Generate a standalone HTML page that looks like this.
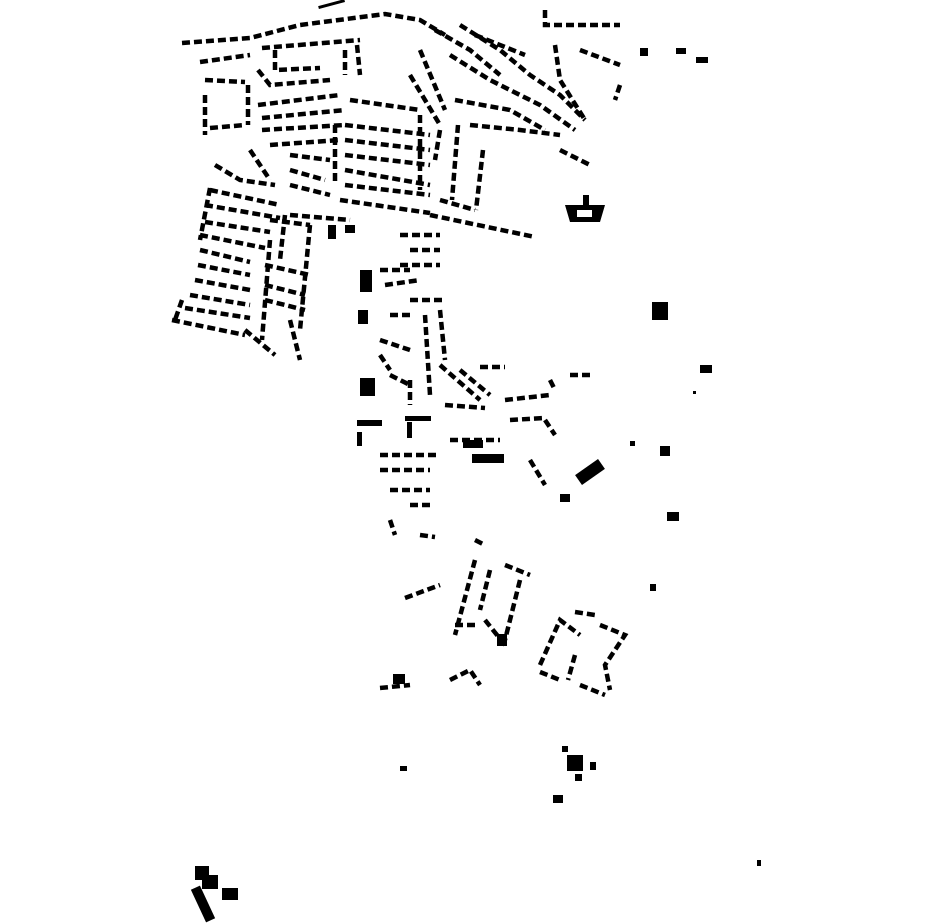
<!DOCTYPE html>
<html><head><style>html,body{margin:0;padding:0;background:#fff}svg{display:block}</style></head>
<body>
<svg width="930" height="924" viewBox="0 0 930 924" xmlns="http://www.w3.org/2000/svg">
<g fill="none" stroke="#000" stroke-width="4.5" stroke-dasharray="8 4">
<path d="M182,43 L250,38 L300,25 L385,14 L420,20 L445,35"/>
<path d="M200,62 L250,55"/>
<path d="M262,48 L360,40"/>
<path d="M205,80 L245,82"/>
<path d="M205,95 L205,135"/>
<path d="M210,128 L245,125"/>
<path d="M248,85 L248,125"/>
<path d="M258,105 L340,95"/>
<path d="M262,118 L345,110"/>
<path d="M262,130 L345,125"/>
<path d="M270,145 L340,140"/>
<path d="M258,70 L270,85 L330,80"/>
<path d="M275,50 L275,70 L320,68"/>
<path d="M345,50 L345,75"/>
<path d="M357,45 L360,75"/>
<path d="M215,165 L240,180 L275,185"/>
<path d="M250,150 L270,180"/>
<path d="M290,155 L330,160"/>
<path d="M290,170 L325,180"/>
<path d="M290,185 L330,195"/>
<path d="M335,125 L335,185"/>
<path d="M350,100 L420,110"/>
<path d="M345,125 L430,135"/>
<path d="M345,140 L430,150"/>
<path d="M345,155 L430,165"/>
<path d="M345,170 L430,185"/>
<path d="M345,185 L430,195"/>
<path d="M340,200 L430,213"/>
<path d="M420,115 L420,190"/>
<path d="M420,50 L445,110"/>
<path d="M410,75 L440,125"/>
<path d="M435,30 L470,50 L500,75"/>
<path d="M460,25 L500,50 L530,75 L560,95 L585,120"/>
<path d="M475,35 L525,55"/>
<path d="M450,55 L490,80 L540,105 L575,130"/>
<path d="M455,100 L510,110 L545,130"/>
<path d="M470,125 L520,130 L560,135"/>
<path d="M555,45 L560,80 L585,120"/>
<path d="M545,10 L545,25 L620,25"/>
<path d="M580,50 L620,65"/>
<path d="M620,85 L615,100"/>
<path d="M560,150 L590,165"/>
<path d="M440,130 L435,160"/>
<path d="M458,125 L452,200"/>
<path d="M483,150 L476,210"/>
<path d="M440,200 L475,210"/>
<path d="M430,215 L535,237"/>
<path d="M210,190 L280,205"/>
<path d="M205,205 L280,218"/>
<path d="M205,222 L270,232"/>
<path d="M200,235 L265,248"/>
<path d="M200,250 L250,262"/>
<path d="M198,265 L250,275"/>
<path d="M195,280 L250,290"/>
<path d="M190,295 L250,305"/>
<path d="M182,300 L175,320"/>
<path d="M185,308 L250,318"/>
<path d="M172,320 L245,335"/>
<path d="M210,188 L200,240"/>
<path d="M270,220 L310,225"/>
<path d="M265,265 L310,275"/>
<path d="M265,285 L305,295"/>
<path d="M265,300 L305,310"/>
<path d="M270,240 L262,340"/>
<path d="M285,215 L280,260"/>
<path d="M310,225 L300,330"/>
<path d="M290,320 L300,360"/>
<path d="M245,330 L275,355"/>
<path d="M290,215 L350,220"/>
<path d="M400,235 L440,235"/>
<path d="M410,250 L440,250"/>
<path d="M400,265 L440,265"/>
<path d="M380,270 L410,270"/>
<path d="M385,285 L420,280"/>
<path d="M410,300 L445,300"/>
<path d="M390,315 L410,315"/>
<path d="M425,315 L430,395"/>
<path d="M440,310 L445,360"/>
<path d="M380,340 L410,350"/>
<path d="M380,355 L390,370"/>
<path d="M390,375 L410,385"/>
<path d="M410,380 L410,405"/>
<path d="M440,365 L480,400"/>
<path d="M460,370 L490,395"/>
<path d="M480,367 L505,367"/>
<path d="M445,405 L485,408"/>
<path d="M505,400 L550,395"/>
<path d="M550,380 L555,390"/>
<path d="M570,375 L590,375"/>
<path d="M510,420 L545,418"/>
<path d="M545,420 L555,435"/>
<path d="M450,440 L500,440"/>
<path d="M380,455 L440,455"/>
<path d="M380,470 L430,470"/>
<path d="M390,490 L430,490"/>
<path d="M410,505 L430,505"/>
<path d="M390,520 L395,535"/>
<path d="M420,535 L435,537"/>
<path d="M530,460 L545,485"/>
<path d="M475,540 L485,545"/>
<path d="M475,560 L455,635"/>
<path d="M490,570 L480,610"/>
<path d="M505,565 L530,575"/>
<path d="M520,580 L505,640"/>
<path d="M485,620 L505,645"/>
<path d="M405,598 L440,585"/>
<path d="M455,625 L475,625"/>
<path d="M540,665 L560,620 L580,635"/>
<path d="M575,612 L595,615"/>
<path d="M540,672 L560,680"/>
<path d="M600,625 L625,635 L605,665 L610,690"/>
<path d="M575,655 L568,680"/>
<path d="M580,685 L605,695"/>
<path d="M450,680 L470,670 L480,685"/>
<path d="M380,688 L410,685"/>
</g>
<g fill="#000">
<rect x="318" y="3" width="27" height="3" transform="rotate(-15 330 4)"/>
<path d="M565,205 L605,205 L600,222 L570,222 Z M577,210 L577,217 L592,217 L592,210 Z" fill-rule="evenodd"/>
<rect x="583" y="195" width="6" height="10"/>
<rect x="652" y="302" width="16" height="18"/>
<rect x="700" y="365" width="12" height="8"/>
<rect x="660" y="446" width="10" height="10"/>
<rect x="667" y="512" width="12" height="9"/>
<rect x="650" y="584" width="6" height="7"/>
<rect x="630" y="441" width="5" height="5"/>
<rect x="693" y="391" width="3" height="3"/>
<rect x="640" y="48" width="8" height="8"/>
<rect x="676" y="48" width="10" height="6"/>
<rect x="696" y="57" width="12" height="6"/>
<rect x="360" y="270" width="12" height="22"/>
<rect x="358" y="310" width="10" height="14"/>
<rect x="357" y="420" width="25" height="6"/>
<rect x="357" y="432" width="5" height="14"/>
<rect x="405" y="416" width="26" height="5"/>
<rect x="407" y="422" width="5" height="16"/>
<rect x="463" y="440" width="20" height="8"/>
<rect x="472" y="454" width="32" height="9"/>
<rect x="576" y="466" width="28" height="12" transform="rotate(-35 590 472)"/>
<rect x="560" y="494" width="10" height="8"/>
<rect x="360" y="378" width="15" height="18"/>
<rect x="393" y="674" width="12" height="10"/>
<rect x="567" y="755" width="16" height="16"/>
<rect x="562" y="746" width="6" height="6"/>
<rect x="590" y="762" width="6" height="8"/>
<rect x="575" y="774" width="7" height="7"/>
<rect x="553" y="795" width="10" height="8"/>
<rect x="400" y="766" width="7" height="5"/>
<rect x="757" y="860" width="4" height="6"/>
<rect x="195" y="866" width="14" height="14"/>
<rect x="202" y="875" width="16" height="14"/>
<rect x="198" y="886" width="10" height="36" transform="rotate(-25 203 904)"/>
<rect x="222" y="888" width="16" height="12"/>
<rect x="497" y="634" width="10" height="12"/>
<rect x="328" y="225" width="8" height="14"/>
<rect x="345" y="225" width="10" height="8"/>
</g>
</svg>
</body></html>
